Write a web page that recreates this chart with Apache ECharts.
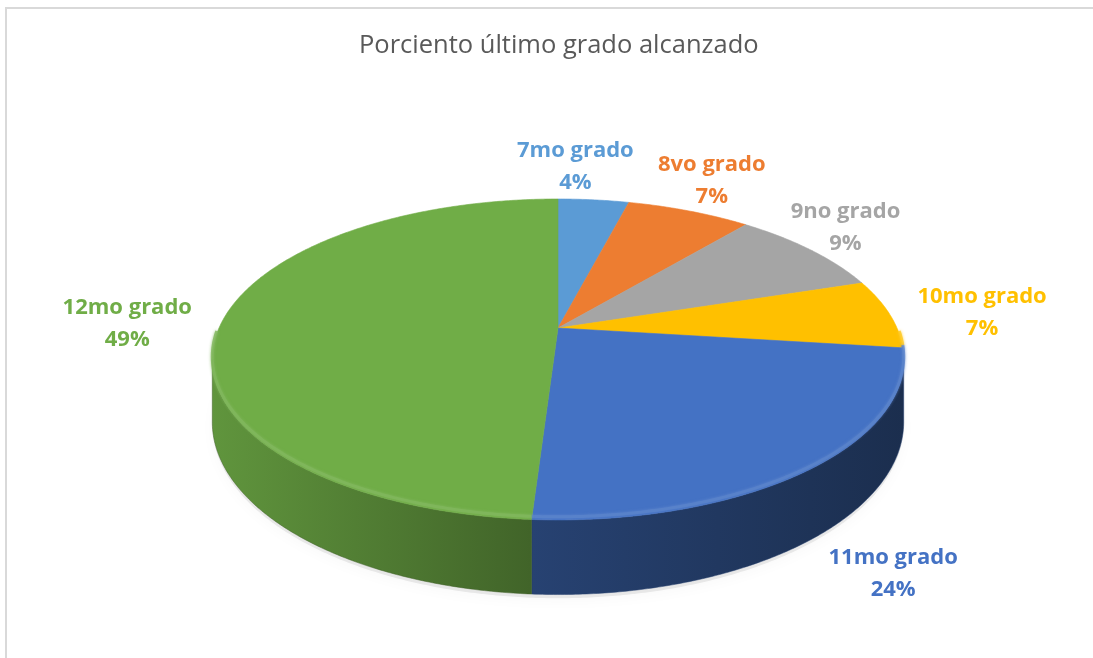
<!DOCTYPE html>
<html>
<head>
<meta charset="utf-8">
<script src="https://cdn.jsdelivr.net/npm/echarts@6/dist/echarts.min.js"></script>
<style>
  html, body { margin: 0; padding: 0; background: #fff; }
  #main { width: 1093px; height: 658px; }
</style>
</head>
<body>
<div id="main"></div>
<script>
// data
const categories = ['7mo grado', '8vo grado', '9no grado', '10mo grado', '11mo grado', '12mo grado'];
const percents = [4, 7, 9, 7, 24, 49];
const colors = ['#5B9BD5', '#ED7D31', '#A5A5A5', '#FFC000', '#4472C4', '#70AD47'];

// layout of the tilted disc (perspective projection)
const CX = 558, CY = 328, RX = 339, RY = 154.3, K = 0.196, DEPTH = 60;
// label nudges (px) on top of the computed outside position
const labelNudge = [[-27, 5], [-9, 4], [-23, -1], [23, 3], [36, 6], [-24, 2]];

const chart = echarts.init(document.getElementById('main'));
const total = percents.reduce((a, b) => a + b, 0);
const SIDE = Math.acos(-K) * 180 / Math.PI;

function proj(deg, r, dz) {
	const t = deg * Math.PI / 180;
	const d = 1 + K * r * Math.cos(t);
	return [CX + RX * r * Math.sin(t) / d, CY - RY * r * Math.cos(t) / d + (dz || 0) / d];
}

function arc(a, b, r, dz) {
	const pts = [];
	const n = Math.max(2, Math.ceil((b - a) / 0.5));
	for (let j = 0; j <= n; j++) pts.push(proj(a + (b - a) * j / n, r, dz));
	return pts;
}

function shade(hex, f) {
	const c = echarts.color.parse(hex);
	const m = v => Math.round(f <= 1 ? v * f : v + (255 - v) * (f - 1));
	return 'rgb(' + m(c[0]) + ',' + m(c[1]) + ',' + m(c[2]) + ')';
}

function renderItem(params, api) {
	const i = params.dataIndex;
	let before = 0;
	for (let j = 0; j < i; j++) before += percents[j];
	const start = before / total * 360;
	const end = start + api.value(0) / total * 360;
	const color = colors[i];
	const children = [];

	if (i === 0) {
		children.push({
			type: 'polygon',
			z2: 0,
			shape: { points: arc(0, 360, 1.0, DEPTH + 3) },
			style: { fill: 'rgba(0,0,0,0.08)', shadowBlur: 14, shadowColor: 'rgba(0,0,0,0.35)', shadowOffsetY: 3 }
		});
	}

	// outer wall, only the part facing us
	const lo = Math.max(start, SIDE), hi = Math.min(end, 360 - SIDE);
	if (lo < hi) {
		const top = arc(lo, hi, 1, 0);
		const bottom = arc(lo, hi, 1, DEPTH).reverse();
		children.push({
			type: 'polygon',
			z2: 1,
			shape: { points: top.concat(bottom) },
			style: {
				fill: {
					type: 'linear', x: 212, y: 0, x2: 905, y2: 0, global: true,
					colorStops: [
						{ offset: 0, color: shade(color, 0.86) },
						{ offset: 0.46, color: shade(color, 0.58) },
						{ offset: 1, color: shade(color, 0.4) }
					]
				},
				stroke: shade(color, 0.55),
				lineWidth: 0.5
			}
		});
	}

	// top face
	children.push({
		type: 'polygon',
		z2: 10,
		shape: { points: [[CX, CY]].concat(arc(start, end, 1, 0)) },
		style: { fill: color, stroke: color, lineWidth: 0.6 }
	});

	// soft bevel highlight along the front rim
	const rlo = Math.max(start, 92), rhi = Math.min(end, 268);
	if (rlo < rhi) {
		children.push({
			type: 'polyline',
			z2: 11,
			shape: { points: arc(rlo, rhi, 1, -2.5) },
			style: { fill: null, stroke: shade(color, 1.12), lineWidth: 3, opacity: 0.8, shadowBlur: 3, shadowColor: shade(color, 1.15) }
		});
	}

	// label outside the slice
	const mid = (start + end) / 2;
	const t = mid * Math.PI / 180;
	const edge = proj(mid, 1, Math.cos(t) < 0 ? DEPTH : 0);
	const lx = edge[0] + Math.sin(t) * 70 + labelNudge[i][0];
	const ly = edge[1] - Math.cos(t) * 38 + labelNudge[i][1];
	children.push({
		type: 'text',
		z2: 20,
		x: lx,
		y: ly,
		style: {
			text: categories[i] + '\n' + api.value(0) + '%',
			fill: color,
			fontFamily: 'Open Sans',
			fontWeight: 'bold',
			fontSize: 22,
			lineHeight: 32,
			align: 'center',
			verticalAlign: 'middle'
		}
	});

	return { type: 'group', children: children };
}

chart.setOption({
	animation: false,
	title: {
		text: 'Porciento último grado alcanzado',
		left: 354,
		top: 28,
		textStyle: { fontFamily: 'Open Sans', fontSize: 25.5, fontWeight: 'normal', color: '#595959' }
	},
	graphic: [{
		type: 'rect',
		silent: true,
		shape: { x: 6, y: 8, width: 1200, height: 800 },
		style: { fill: 'none', stroke: '#d9d9d9', lineWidth: 2 }
	}],
	series: [{
		type: 'custom',
		coordinateSystem: 'none',
		renderItem: renderItem,
		data: percents.map((v, i) => ({ name: categories[i], value: v }))
	}]
});

window.addEventListener('resize', () => chart.resize());
</script>
</body>
</html>
